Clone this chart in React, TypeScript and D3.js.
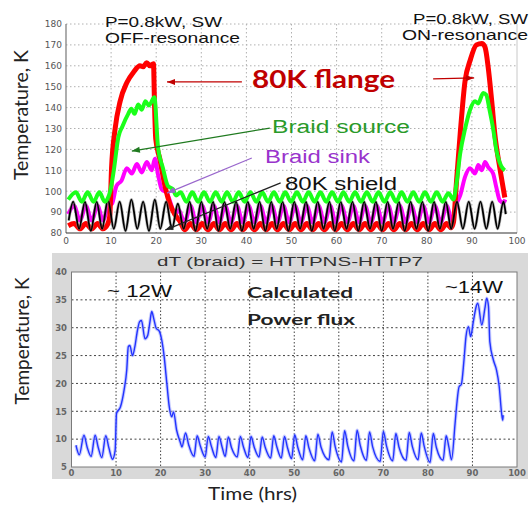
import React from "react";
import * as d3 from "d3";

type P = [number, number];

// ---- Top panel data (hours, K) ----
const flange: P[] = [
  [0.5,83.5],[1.8,84.5],[3.1,82],[4.4,84.5],[5.7,82],[7.0,84.5],[8.2,82],[9.2,84],[9.7,88],
  [10.1,111],[10.9,130],[12.0,143],[13.5,152],[15.0,157],[16.4,160],[17.1,159.5],[17.9,161.5],[18.6,160],[19.4,161],
  [19.6,144],[19.9,125],[20.8,115.5],[21.9,103],[23.1,93.5],[24.2,88.7],[25.3,85.5],
  [26.3,81.5],[27.6,84.5],[28.9,81.5],[30.2,84.5],[31.5,81.5],[32.8,84.5],[34.0,81.5],[35.3,84.5],[36.6,81.5],[37.9,84.5],
  [39.2,81.5],[40.5,84.5],[41.8,81.5],[43.1,84.5],[44.4,81.5],[45.7,84.5],[46.9,81.5],[48.2,84.5],[49.5,81.5],[50.8,84.5],
  [52.1,81.5],[53.4,84.5],[54.7,81.5],[56.0,84.5],[57.3,81.5],[58.6,84.5],[59.8,81.5],[61.1,84.5],[62.4,81.5],[63.7,84.5],
  [65.0,81.5],[66.3,84.5],[67.6,81.5],[68.9,84.5],[70.2,81.5],[71.5,84.5],[72.7,81.5],[74.0,84.5],[75.3,81.5],[76.6,84.5],
  [77.9,81.5],[79.2,84.5],[80.5,81.5],[81.8,84.5],[83.1,81.5],[84.4,84.5],[85.4,82.5],[85.9,85],
  [86.6,105],[87.4,127.4],[88.5,153],[89.6,162.5],[91.0,170],[92.2,170.7],[92.9,169],[93.6,159.5],
  [94.4,143],[95.1,127],[96.2,111],[97.3,97]
];

const braidSource: P[] = [
  [0.5,96],[2.2,99.5],[3.5,95],[4.8,99.5],[6.1,95],[7.4,99.5],[8.6,95],[9.8,100],
  [10.6,110],[11.6,125.8],[12.5,131],[13.8,137],[14.5,139.5],[15.2,137],[16.0,141.5],[16.8,139],[17.6,143],[18.4,141],[19.6,145],
  [20.4,121],[21.5,111],[22.6,102.5],[23.7,101],[24.4,98],
  [25.4,99.5],[26.7,95],[28.0,99.5],[29.3,95],[30.6,99.5],[31.9,95],[33.2,99.5],[34.5,95],[35.7,99.5],[37.0,95],
  [38.3,99.5],[39.6,95],[40.9,99.5],[42.2,95],[43.5,99.5],[44.8,95],[46.1,99.5],[47.4,95],[48.6,99.5],[49.9,95],
  [51.2,99.5],[52.5,95],[53.8,99.5],[55.1,95],[56.4,99.5],[57.7,95],[59.0,99.5],[60.3,95],[61.5,99.5],[62.8,95],
  [64.1,99.5],[65.4,95],[66.7,99.5],[68.0,95],[69.3,99.5],[70.6,95],[71.9,99.5],[73.2,95],[74.4,99.5],[75.7,95],
  [77.0,99.5],[78.3,95],[79.6,99.5],[80.9,95],[82.2,99.5],[83.5,95],[84.8,99],[85.9,96],
  [86.6,104],[87.4,118],[88.5,130],[89.6,139],[90.7,143],[91.4,142],[92.5,147],[93.2,146],[93.9,139],
  [94.7,130],[95.4,120],[96.5,112],[97.3,110]
];

const braidSink: P[] = [
  [0.5,89],[1.8,93],[3.1,86],[4.4,93],[5.7,86],[7.0,93],[8.2,86],[9.4,93],[10.2,94],
  [11.2,102.6],[12.3,105],[13.5,111],[14.6,108.5],[15.7,113],[16.8,109],[17.9,114],[19.0,110],[19.7,115.5],
  [20.4,108],[21.2,101],[22.4,99],[23.1,95],[24.2,89],[25.0,91],
  [26.3,85],[27.6,93],[28.9,85],[30.2,93],[31.5,85],[32.8,93],[34.0,85],[35.3,93],[36.6,85],[37.9,93],
  [39.2,85],[40.5,93],[41.8,85],[43.1,93],[44.4,85],[45.7,93],[46.9,85],[48.2,93],[49.5,85],[50.8,93],
  [52.1,85],[53.4,93],[54.7,85],[56.0,93],[57.3,85],[58.6,93],[59.8,85],[61.1,93],[62.4,85],[63.7,93],
  [65.0,85],[66.3,93],[67.6,85],[68.9,93],[70.2,85],[71.5,93],[72.7,85],[74.0,93],[75.3,85],[76.6,93],
  [77.9,85],[79.2,93],[80.5,85],[81.8,93],[83.1,85],[84.4,93],[85.6,86],
  [86.6,94],[87.4,98],[88.5,107],[89.6,111],[90.7,108.5],[91.4,112.5],[92.2,110],[92.9,114],[93.6,111.5],
  [94.7,108.5],[95.4,102],[96.2,95.5],[97.0,94.5],[97.4,96]
];

const shield: P[] = [
  [0.6,86],[1.6,95],[2.9,82],[4.2,95],[5.5,81],[6.8,95],[8.0,82],[9.3,96],[10.6,82],[11.9,95],
  [13.2,81],[14.5,96],[15.8,82],[17.1,95],[18.4,81],[19.7,96],[20.9,82],[22.2,95],[23.5,82],[24.8,94],
  [26.1,82],[27.4,95],[28.7,81],[30.0,95],[31.3,82],[32.6,95],[33.8,81],[35.1,95],[36.4,82],[37.7,95],
  [39.0,81],[40.3,95],[41.6,82],[42.9,95],[44.2,81],[45.5,95],[46.7,82],[48.0,95],[49.3,81],[50.6,95],
  [51.9,82],[53.2,95],[54.5,81],[55.8,95],[57.1,82],[58.4,95],[59.6,81],[60.9,95],[62.2,82],[63.5,95],
  [64.8,81],[66.1,95],[67.4,82],[68.7,95],[70.0,81],[71.3,95],[72.5,82],[73.8,95],[75.1,81],[76.4,95],
  [77.7,82],[79.0,95],[80.3,81],[81.6,95],[82.9,82],[84.2,95],[85.4,82],[86.7,95],[88.0,82],[89.3,95],
  [90.6,82],[91.9,95],[93.2,82],[94.5,95],[95.7,82],[97.0,95],[97.5,89]
];

// ---- Bottom panel data (hours, K) ----
const deltaT: P[] = [
  [1.0,8.9],[1.75,7.2],[2.8,10.7],[3.5,8.6],[4.4,6.9],[5.3,10.7],[6.0,8.5],[6.8,6.7],[7.7,10.6],[8.4,8.4],
  [9.2,6.4],[9.8,8.0],[10.1,14.6],[11.0,15.8],[11.8,18.8],[12.4,22.4],[12.75,26.6],[13.1,26.8],[13.7,25.0],
  [14.2,26.5],[14.8,29.5],[15.3,31.1],[15.7,31.3],[16.5,28.0],[17.1,28.6],[17.6,31.0],[18.0,32.9],[18.5,31.5],
  [19.0,29.9],[19.7,29.4],[20.25,27.8],[20.8,24.8],[21.4,20],[21.95,15.8],[22.5,14.0],[22.9,14.9],[23.6,11.6],
  [24.4,9.5],[24.8,8.6],
  [25.6,11.1],[26.3,9.0],[27.5,6.9],[28.2,10.6],[28.9,8.8],[30.0,6.8],[30.7,10.5],[31.4,8.7],[32.4,6.7],
  [33.1,10.5],[33.8,8.6],[34.5,6.9],[35.2,10.4],[35.9,8.5],[37.2,6.8],[37.9,10.5],[38.6,8.6],[39.6,6.7],
  [40.3,10.5],[41.0,8.6],[42.1,6.8],[42.8,10.4],[43.5,8.5],[44.7,6.6],[45.4,10.6],[46.1,8.6],[47.1,6.6],
  [47.8,10.5],[48.5,8.4],[49.4,6.5],[50.1,10.8],[50.8,8.5],[51.9,6.3],[52.6,10.6],[53.3,8.4],[54.6,6.1],
  [55.3,10.9],[56.0,8.6],[57.8,6.3],[58.5,11.3],[59.2,8.6],[60.6,5.9],[61.3,11.5],[62.0,8.8],[63.4,6.1],
  [64.1,11.6],[64.8,8.9],[66.2,6.2],[66.9,11.3],[67.6,8.6],[69.3,6.0],[70.0,11.4],[70.7,8.8],[72.1,6.1],
  [72.8,11.0],[73.5,8.6],[75.1,6.2],[75.8,11.2],[76.5,8.7],[77.8,6.3],[78.5,11.1],[79.2,8.6],[80.5,5.8],
  [81.2,11.0],[81.9,8.5],[83.4,6.2],[84.1,10.6],[84.7,8.6],[85.3,6.3],
  [86.1,12.8],[86.5,16.4],[87.0,19.4],[87.5,19.8],[88.1,24.2],[88.55,28.4],[89.1,30.2],[89.6,28.4],
  [90.2,31.1],[90.95,34.1],[91.2,34.4],[92.1,30.5],[92.8,33.5],[93.2,35.3],[93.6,33.8],[93.9,27.5],
  [94.7,24.2],[95.4,22.4],[96.0,19.5],[96.55,14.6],[96.8,13.4],[96.9,14.3]
];

// ---- ticks ----
const topXTicks = [0,10,20,30,40,50,60,70,80,90,100];
const topYTicks = [80,90,100,110,120,130,140,150,160,170,180];
const botXTicks = [0,10,20,30,40,50,60,70,80,90,100];
const botYTicks = [5,10,15,20,25,30,35,40];

// annotation arrows in data units (arrowhead at "to")
const topArrows: { from: P; to: P; color: string }[] = [
  { from: [39.0, 152.3], to: [22.4, 152.3], color: "#c00000" },
  { from: [81.4, 153.7], to: [90.5, 154.2], color: "#c00000" },
  { from: [45.2, 130.2], to: [14.6, 119.2], color: "#1f7a1f" },
  { from: [41.2, 115.9], to: [22.4, 99.1], color: "#9966cc" },
  { from: [47.6, 104.0], to: [22.0, 81.4], color: "#222222" },
];

const SANS = "'Liberation Sans', Arial, sans-serif";
const LATO = "Lato, 'Open Sans', sans-serif";
const TICKF = "'DejaVu Sans', sans-serif";

export default function App() {
  const xTop = d3.scaleLinear().domain([0, 100]).range([66, 517]);
  const yTop = d3.scaleLinear().domain([80, 180]).range([233, 24]);
  const xBot = d3.scaleLinear().domain([0, 100]).range([71.5, 517]);
  const yBot = d3.scaleLinear().domain([5, 40]).range([467, 272]);

  const lineTop = d3.line<P>().x(d => xTop(d[0])).y(d => yTop(d[1])).curve(d3.curveMonotoneX);
  const lineBot = d3.line<P>().x(d => xBot(d[0])).y(d => yBot(d[1])).curve(d3.curveMonotoneX);

  const arrowHead = (x1: number, y1: number, x0: number, y0: number, color: string, key: string) => {
    const ang = Math.atan2(y1 - y0, x1 - x0);
    const L = 8, Wd = 3;
    const bx = x1 - L * Math.cos(ang), by = y1 - L * Math.sin(ang);
    const px = -Math.sin(ang) * Wd, py = Math.cos(ang) * Wd;
    return <polygon key={key} points={`${x1},${y1} ${bx + px},${by + py} ${bx - px},${by - py}`} fill={color} />;
  };

  return (
    <svg width={530} height={506} style={{ position: "absolute", left: 0, top: 0, background: "#fff" }}>
      {/* ================= TOP PANEL ================= */}
      <g>
        <rect x={xTop(0)} y={yTop(180)} width={xTop(100) - xTop(0)} height={yTop(80) - yTop(180)} fill="#fff" />
        {topXTicks.filter(t => t > 0 && t < 100).map(t => (
          <line key={"tgx" + t} x1={xTop(t)} x2={xTop(t)} y1={yTop(180)} y2={yTop(80)} stroke="#b0b0b0" strokeWidth={1} strokeDasharray="1.5,2.5" />
        ))}
        {topYTicks.filter(t => t > 80).map(t => (
          <line key={"tgy" + t} x1={xTop(0)} x2={xTop(100)} y1={yTop(t)} y2={yTop(t)} stroke="#b0b0b0" strokeWidth={1} strokeDasharray="1.5,2.5" />
        ))}
        <line x1={xTop(100)} x2={xTop(100)} y1={yTop(180)} y2={yTop(80)} stroke="#c8c8c8" strokeWidth={1} />
        <line x1={xTop(0)} x2={xTop(0)} y1={yTop(180)} y2={yTop(80)} stroke="#777" strokeWidth={1.2} />
        <line x1={xTop(0)} x2={xTop(100)} y1={yTop(80)} y2={yTop(80)} stroke="#333" strokeWidth={1.2} />

        {topYTicks.map(t => (
          <text key={"tyl" + t} x={62} y={yTop(t) + 3.3} textAnchor="end" fontFamily={TICKF} fontSize={9} fill="#555">{t}</text>
        ))}
        {topXTicks.map(t => (
          <text key={"txl" + t} x={xTop(t)} y={244} textAnchor="middle" fontFamily={TICKF} fontSize={9} fill="#555">{t}</text>
        ))}

        <path d={lineTop(braidSink) || ""} fill="none" stroke="#ff00ff" strokeWidth={4} strokeLinejoin="round" />
        <path d={lineTop(flange) || ""} fill="none" stroke="#ff0000" strokeWidth={5} strokeLinejoin="round" />
        <path d={lineTop(shield) || ""} fill="none" stroke="#777" strokeWidth={3} strokeOpacity={0.5} strokeLinejoin="round" />
        <path d={lineTop(shield) || ""} fill="none" stroke="#000" strokeWidth={1.8} strokeLinejoin="round" />
        <path d={lineTop(braidSource) || ""} fill="none" stroke="#1aff1a" strokeWidth={4} strokeLinejoin="round" />

        {topArrows.map((a, i) => {
          const x0 = xTop(a.from[0]), y0 = yTop(a.from[1]), x1 = xTop(a.to[0]), y1 = yTop(a.to[1]);
          return (
            <g key={"arr" + i}>
              <line x1={x0} y1={y0} x2={x1} y2={y1} stroke={a.color} strokeWidth={1.2} />
              {arrowHead(x1, y1, x0, y0, a.color, "h" + i)}
            </g>
          );
        })}

        <text x={105} y={27} fontFamily={SANS} fontSize={15} fill="#111" textLength={117} lengthAdjust="spacingAndGlyphs">P=0.8kW, SW</text>
        <text x={105} y={43} fontFamily={SANS} fontSize={15} fill="#111" textLength={135} lengthAdjust="spacingAndGlyphs">OFF-resonance</text>
        <text x={413} y={24} fontFamily={SANS} fontSize={14.5} fill="#111" textLength={115} lengthAdjust="spacingAndGlyphs">P=0.8kW, SW</text>
        <text x={402} y={40} fontFamily={SANS} fontSize={14.5} fill="#111" textLength={126} lengthAdjust="spacingAndGlyphs">ON-resonance</text>

        <text x={252} y={88} fontFamily={LATO} fontWeight={700} fontSize={25} fill="#c00000" textLength={143} lengthAdjust="spacingAndGlyphs">80K flange</text>
        <text x={272} y={133} fontFamily={SANS} fontSize={18} fill="#2a9a2a" textLength={138} lengthAdjust="spacingAndGlyphs">Braid source</text>
        <text x={265} y={163} fontFamily={SANS} fontSize={18} fill="#9933cc" textLength={105} lengthAdjust="spacingAndGlyphs">Braid sink</text>
        <text x={285} y={190} fontFamily={SANS} fontSize={18} fill="#111" textLength={112} lengthAdjust="spacingAndGlyphs">80K shield</text>

        <text transform="translate(28,115) rotate(-90)" textAnchor="middle" fontFamily={LATO} fontSize={19} fill="#222" textLength={130} lengthAdjust="spacingAndGlyphs">Temperature, K</text>
      </g>

      {/* ================= BOTTOM PANEL ================= */}
      <g>
        <rect x={52} y={253} width={476} height={226} fill="#d9d9d9" />
        <rect x={xBot(0)} y={yBot(40)} width={xBot(100) - xBot(0)} height={yBot(5) - yBot(40)} fill="#fff" />
        {botXTicks.filter(t => t > 0 && t < 100).map(t => (
          <line key={"bgx" + t} x1={xBot(t)} x2={xBot(t)} y1={yBot(40)} y2={yBot(5)} stroke="#444" strokeWidth={1} strokeDasharray="1.5,2" />
        ))}
        {botYTicks.filter(t => t > 5 && t < 40).map(t => (
          <line key={"bgy" + t} x1={xBot(0)} x2={xBot(100)} y1={yBot(t)} y2={yBot(t)} stroke="#444" strokeWidth={1} strokeDasharray="2,2.5" />
        ))}
        <rect x={xBot(0)} y={yBot(40)} width={xBot(100) - xBot(0)} height={yBot(5) - yBot(40)} fill="none" stroke="#7a7a7a" strokeWidth={1} />

        {botYTicks.map(t => (
          <text key={"byl" + t} x={67} y={yBot(t) + 3.3} textAnchor="end" fontFamily={TICKF} fontSize={8.5} fontWeight={700} fill="#666">{t}</text>
        ))}
        {botXTicks.map(t => (
          <text key={"bxl" + t} x={xBot(t)} y={476} textAnchor="middle" fontFamily={TICKF} fontSize={8.5} fontWeight={700} fill="#666">{t}</text>
        ))}

        <text x={157} y={266} fontFamily={SANS} fontSize={12.5} fill="#333" textLength={266} lengthAdjust="spacingAndGlyphs">dT (braid) = HTTPNS-HTTP7</text>

        <path d={lineBot(deltaT) || ""} fill="none" stroke="#9aa4ff" strokeOpacity={0.55} strokeWidth={3.5} strokeLinejoin="round" />
        <path d={lineBot(deltaT) || ""} fill="none" stroke="#2233ff" strokeWidth={1.4} strokeLinejoin="round" />

        <text x={107} y={297} fontFamily={SANS} fontSize={17} fill="#111" textLength={65} lengthAdjust="spacingAndGlyphs">~ 12W</text>
        <text x={445} y={293} fontFamily={SANS} fontSize={17} fill="#111" textLength={58} lengthAdjust="spacingAndGlyphs">~14W</text>
        <text x={247} y={298} fontFamily={LATO} fontWeight={700} fontSize={16} fill="#222" textLength={106} lengthAdjust="spacingAndGlyphs">Calculated</text>
        <text x={247} y={325} fontFamily={LATO} fontWeight={700} fontSize={16} fill="#222" textLength={108} lengthAdjust="spacingAndGlyphs">Power flux</text>

        <text transform="translate(29,341) rotate(-90)" textAnchor="middle" fontFamily={LATO} fontSize={19} fill="#222" textLength={127} lengthAdjust="spacingAndGlyphs">Temperature, K</text>
        <text x={208} y={500} fontFamily={LATO} fontSize={17} fill="#222" textLength={89} lengthAdjust="spacingAndGlyphs">Time (hrs)</text>
      </g>
    </svg>
  );
}
